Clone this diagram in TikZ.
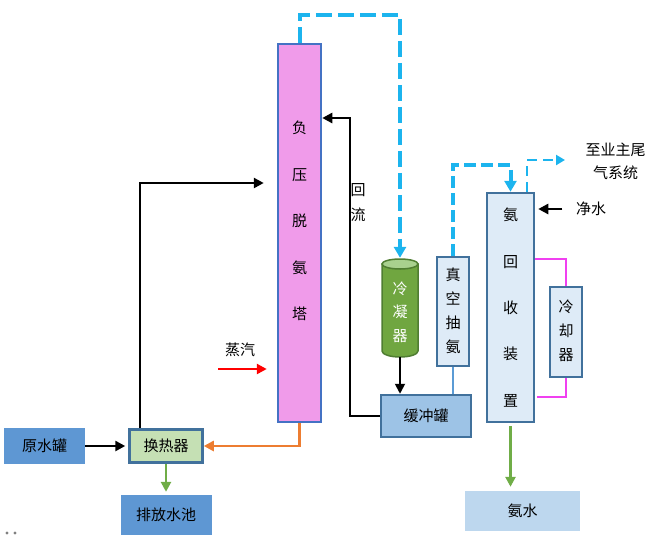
\documentclass[tikz,border=0pt]{standalone}
\usepackage{fontspec}
\newfontfamily\cjk{Noto Sans CJK SC}
\usetikzlibrary{arrows.meta}
\definecolor{towerfill}{HTML}{F09BEA}
\definecolor{towerline}{HTML}{4472C4}
\definecolor{boxline}{HTML}{41719C}
\definecolor{lightbox}{HTML}{DEEBF7}
\definecolor{buffill}{HTML}{9DC3E6}
\definecolor{waterbox}{HTML}{BDD7EE}
\definecolor{darkblue}{HTML}{5E97D3}
\definecolor{hxfill}{HTML}{C5E0B4}
\definecolor{condfill}{HTML}{70A640}
\definecolor{condline}{HTML}{507E32}
\definecolor{condtop}{HTML}{A9D18E}
\definecolor{dashblue}{HTML}{1CB4EE}
\definecolor{thinblue}{HTML}{5B9BD5}
\definecolor{magline}{HTML}{F040F0}
\definecolor{orangeline}{HTML}{ED7D31}
\definecolor{greenline}{HTML}{70AD47}
\tikzset{
  cjkfont/.style={font=\cjk\fontsize{15}{18}\selectfont},
  boxstyle/.style={draw=boxline, line width=2.5pt, fill=lightbox, inner sep=0pt},
  flatbox/.style={inner sep=0pt},
  tipstyle/.style={-{Triangle[length=10pt,width=10pt]}},
  blk/.style={draw=black, line width=2.5pt, tipstyle},
  bdash/.style={draw=dashblue, line width=4pt, dash pattern=on 16pt off 6pt,
     -{Triangle[length=11pt,width=12pt]}},
  bdashthin/.style={draw=dashblue, line width=2.6pt, dash pattern=on 10pt off 6pt,
     -{Triangle[length=9pt,width=10pt]}},
  magl/.style={draw=magline, line width=2pt},
}
\begin{document}
\begin{tikzpicture}[x=1pt,y=-1pt,cjkfont]
\useasboundingbox (0,0) rectangle (671,536);

% tower
\node[draw=towerline, line width=2.5pt, fill=towerfill, minimum width=43pt, minimum height=378pt, inner sep=0pt] (tower) at (299.5,233) {};
\node[align=center, font=\cjk\fontsize{15}{46.5}\selectfont] (towertxt) at (299.5,221) {负\\压\\脱\\氨\\塔};

% condenser (cylinder)
\node[minimum width=36pt, minimum height=99pt, inner sep=0pt] (cond) at (400,307.5) {};
\draw[draw=condline, line width=1.5pt, fill=condfill]
  (382,264) -- (382,351) arc[start angle=180, end angle=360, x radius=18pt, y radius=6pt] -- (418,264) -- cycle;
\draw[draw=condline, line width=1.5pt, fill=condtop] (400,264) ellipse[x radius=18pt, y radius=5pt];
\node[align=center, text=white, font=\cjk\fontsize{15}{23.5}\selectfont] (condtxt) at (400,312) {冷\\凝\\器};

% buffer tank
\node[boxstyle, fill=buffill, minimum width=90pt, minimum height=42pt] (buf) at (426,416) {缓冲罐};

% vacuum pump
\node[boxstyle, minimum width=32pt, minimum height=109pt] (pump) at (453,311.5) {};
\node[align=center, font=\cjk\fontsize{15}{24}\selectfont] (pumptxt) at (453,311) {真\\空\\抽\\氨};

% ammonia recovery
\node[boxstyle, minimum width=47pt, minimum height=229pt] (rec) at (510.5,307.5) {};
\node[align=center, font=\cjk\fontsize{15}{46.3}\selectfont] (rectxt) at (510.5,307.5) {氨\\回\\收\\装\\置};

% cooler
\node[boxstyle, minimum width=32pt, minimum height=90pt] (cool) at (566,332) {};
\node[align=center, font=\cjk\fontsize{15}{24}\selectfont] (cooltxt) at (566,331) {冷\\却\\器};

% ammonia water
\node[flatbox, fill=waterbox, minimum width=115pt, minimum height=40pt] (ammw) at (522.5,511) {氨水};

% raw water tank, heat exchanger, pool
\node[flatbox, fill=darkblue, minimum width=81pt, minimum height=36pt] (raw) at (44.5,446) {原水罐};
\node[boxstyle, fill=hxfill, minimum width=73pt, minimum height=33pt] (hx) at (166,446) {换热器};
\node[flatbox, fill=darkblue, minimum width=91pt, minimum height=40pt] (pool) at (166,515) {排放水池};

% labels
\node[align=center, font=\cjk\fontsize{15}{25}\selectfont] (huiliu) at (358,203) {回\\流};
\node (steam) at (240,350) {蒸汽};
\node (jingshui) at (591,209) {净水};
\node[align=center, font=\cjk\fontsize{15}{22.5}\selectfont] (tail) at (615.5,161.5) {至业主尾\\气系统};

% coordinates
\coordinate (c1) at (400,15);
\coordinate (c2) at (510.5,165);
\coordinate (c3) at (527,160);
\coordinate (c4) at (565,160);
\coordinate (c5) at (350,118);
\coordinate (c6) at (140,183);
\coordinate (s1) at (218,369);
\coordinate (m1) at (566,259);
\coordinate (m2) at (537,397);

% blue dashed vapour lines
\draw[bdash] (tower.north) |- (c1) -- (cond.north);
\draw[bdash, dash pattern=on 12pt off 5pt] (pump.north) |- (c2) -- (rec.north);
\draw[bdashthin] (c3 |- rec.north) -- (c3) -- (c4);

% reflux
\draw[blk] (buf.west) -| (c5) -- (tower.east |- c5);
% condenser to buffer
\draw[blk, line width=1.8pt] (cond.south) -- (buf.north -| cond.south);
% pump to buffer
\draw[draw=thinblue, line width=2pt] (pump.south) -- (buf.north -| pump.south);
% clean water
\draw[blk, shorten <=10pt, shorten >=3pt] (jingshui.west) -- (rec.east |- jingshui.west);
% cooler loop
\draw[magl] (rec.east |- m1) -- (m1) -- (cool.north);
\draw[magl] (cool.south) |- (m2);
% ammonia water out
\draw[draw=greenline, line width=2.5pt, tipstyle, shorten <=3pt, shorten >=4pt] (rec.south) -- (ammw.north -| rec.south);

% raw water to hx
\draw[blk, shorten >=3pt] (raw.east) -- (hx.west);
% tower bottom to hx
\draw[draw=orangeline, line width=2.5pt, tipstyle] (tower.south) |- (hx.east);
% hx to tower feed
\draw[blk, shorten >=13pt] (hx.north -| c6) -- (c6) -- (tower.west |- c6);
% hx to pool
\draw[draw=greenline, line width=2.5pt, tipstyle, shorten >=3pt] (hx.south) -- (pool.north);
% steam
\draw[draw=red, line width=2.5pt, tipstyle, shorten >=10pt] (s1) -- (tower.west |- s1);

% small dots
\fill[gray] (7,533) circle[radius=1.6pt];
\fill[gray] (15,533) circle[radius=1.6pt];
\end{tikzpicture}
\end{document}
